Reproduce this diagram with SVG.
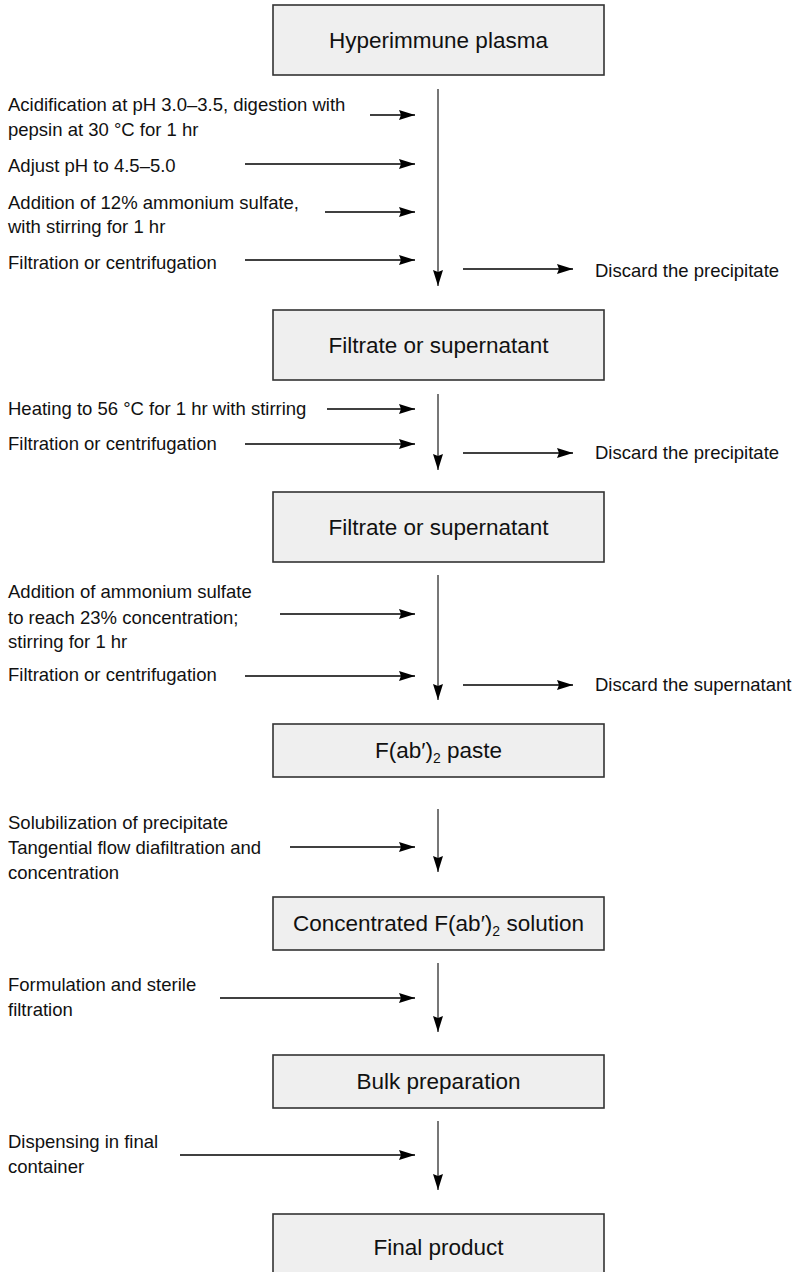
<svg xmlns="http://www.w3.org/2000/svg" width="793" height="1272" viewBox="0 0 793 1272">
  <style>
    .box { fill: #efefef; stroke: #333333; stroke-width: 1.6; }
    .btxt { font-family: "Liberation Sans", Arial, sans-serif; font-size: 22.5px; fill: #111111; text-anchor: middle; }
    .ltxt { font-family: "Liberation Sans", Arial, sans-serif; font-size: 18.5px; fill: #111111; }
    .hline { stroke: #000000; stroke-width: 1.3; fill: none; marker-end: url(#head); }
    .vline { stroke: #555555; stroke-width: 1.6; fill: none; marker-end: url(#head); }
  </style>
  <defs>
    <!-- filled arrowhead with a slightly hollowed back -->
    <marker id="head" viewBox="0 0 16 10" refX="16" refY="5" markerWidth="16" markerHeight="10" markerUnits="userSpaceOnUse" orient="auto">
      <path d="M0,0 L16,5 L0,10 L2,5 z" fill="#000000"/>
    </marker>
  </defs>

  <!-- process steps -->
  <g id="n1">
    <rect class="box" x="273" y="5" width="331" height="70"/>
    <text class="btxt" x="438.5" y="48">Hyperimmune plasma</text>
  </g>
  <g id="n2">
    <rect class="box" x="273" y="310" width="331" height="70"/>
    <text class="btxt" x="438.5" y="353">Filtrate or supernatant</text>
  </g>
  <g id="n3">
    <rect class="box" x="273" y="492" width="331" height="70"/>
    <text class="btxt" x="438.5" y="535">Filtrate or supernatant</text>
  </g>
  <g id="n4">
    <rect class="box" x="273" y="724" width="331" height="53"/>
    <text class="btxt" x="438.5" y="758">F(ab′)<tspan font-size="14" dy="5">2</tspan><tspan dy="-5"> paste</tspan></text>
  </g>
  <g id="n5">
    <rect class="box" x="273" y="897" width="331" height="53"/>
    <text class="btxt" x="438.5" y="931">Concentrated F(ab′)<tspan font-size="14" dy="5">2</tspan><tspan dy="-5"> solution</tspan></text>
  </g>
  <g id="n6">
    <rect class="box" x="273" y="1055" width="331" height="53"/>
    <text class="btxt" x="438.5" y="1089">Bulk preparation</text>
  </g>
  <g id="n7">
    <rect class="box" x="273" y="1214" width="331" height="66"/>
    <text class="btxt" x="438.5" y="1255">Final product</text>
  </g>

  <!-- side labels -->
  <g id="labels">
    <text class="ltxt" x="8" y="111">Acidification at pH 3.0–3.5, digestion with</text>
    <text class="ltxt" x="8" y="136">pepsin at 30 °C for 1 hr</text>
    <text class="ltxt" x="8" y="172">Adjust pH to 4.5–5.0</text>
    <text class="ltxt" x="8" y="209">Addition of 12% ammonium sulfate,</text>
    <text class="ltxt" x="8" y="233">with stirring for 1 hr</text>
    <text class="ltxt" x="8" y="269">Filtration or centrifugation</text>
    <text class="ltxt" x="595" y="277">Discard the precipitate</text>

    <text class="ltxt" x="8" y="415">Heating to 56 °C for 1 hr with stirring</text>
    <text class="ltxt" x="8" y="450">Filtration or centrifugation</text>
    <text class="ltxt" x="595" y="459">Discard the precipitate</text>

    <text class="ltxt" x="8" y="598">Addition of ammonium sulfate</text>
    <text class="ltxt" x="8" y="624">to reach 23% concentration;</text>
    <text class="ltxt" x="8" y="648">stirring for 1 hr</text>
    <text class="ltxt" x="8" y="681">Filtration or centrifugation</text>
    <text class="ltxt" x="595" y="691">Discard the supernatant</text>

    <text class="ltxt" x="8" y="829">Solubilization of precipitate</text>
    <text class="ltxt" x="8" y="854">Tangential flow diafiltration and</text>
    <text class="ltxt" x="8" y="879">concentration</text>

    <text class="ltxt" x="8" y="991">Formulation and sterile</text>
    <text class="ltxt" x="8" y="1016">filtration</text>

    <text class="ltxt" x="8" y="1148">Dispensing in final</text>
    <text class="ltxt" x="8" y="1173">container</text>
  </g>

  <!-- connectors -->
  <g id="connectors">
    <line class="vline" x1="438" y1="89" x2="438" y2="286"/>
    <line class="hline" x1="370" y1="115" x2="415" y2="115"/>
    <line class="hline" x1="245" y1="164" x2="415" y2="164"/>
    <line class="hline" x1="325" y1="212" x2="415" y2="212"/>
    <line class="hline" x1="245" y1="260" x2="415" y2="260"/>
    <line class="hline" x1="463" y1="269" x2="573" y2="269"/>

    <line class="vline" x1="438" y1="394" x2="438" y2="470"/>
    <line class="hline" x1="327" y1="409" x2="415" y2="409"/>
    <line class="hline" x1="245" y1="444" x2="415" y2="444"/>
    <line class="hline" x1="463" y1="453" x2="573" y2="453"/>

    <line class="vline" x1="438" y1="575" x2="438" y2="700"/>
    <line class="hline" x1="280" y1="614" x2="415" y2="614"/>
    <line class="hline" x1="245" y1="676" x2="415" y2="676"/>
    <line class="hline" x1="463" y1="685" x2="573" y2="685"/>

    <line class="vline" x1="438" y1="809" x2="438" y2="872"/>
    <line class="hline" x1="290" y1="847" x2="415" y2="847"/>

    <line class="vline" x1="438" y1="963" x2="438" y2="1032"/>
    <line class="hline" x1="220" y1="998" x2="415" y2="998"/>

    <line class="vline" x1="438" y1="1121" x2="438" y2="1190"/>
    <line class="hline" x1="180" y1="1155" x2="415" y2="1155"/>
  </g>
</svg>
